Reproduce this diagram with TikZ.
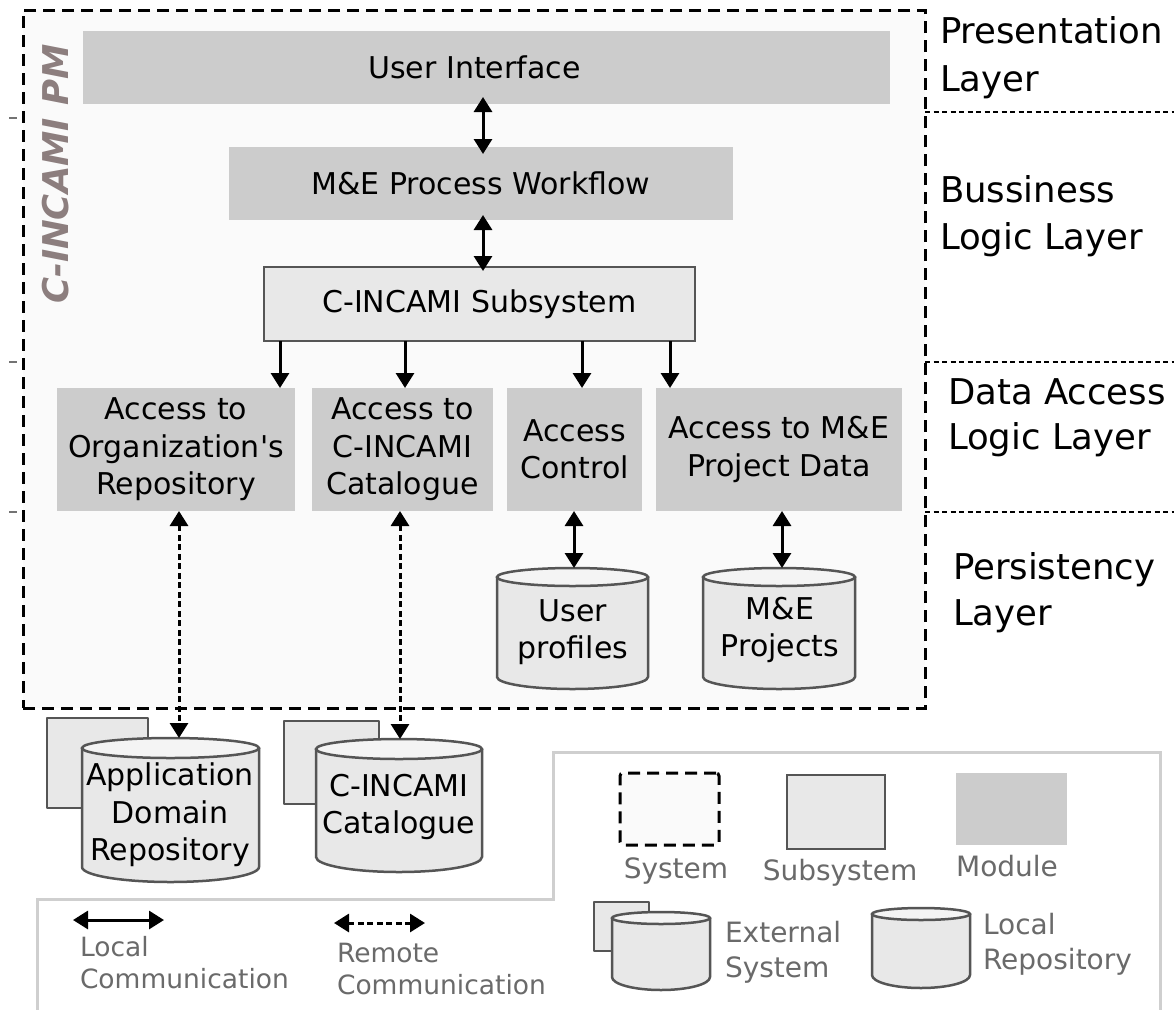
\documentclass[tikz,border=0pt]{standalone}
\usepackage{fontspec}
\setmainfont{DejaVu Sans}
\usetikzlibrary{arrows.meta}
\definecolor{modfill}{HTML}{CCCCCC}
\definecolor{subfill}{HTML}{E8E8E8}
\definecolor{subdraw}{HTML}{555555}
\definecolor{sysfill}{HTML}{FAFAFA}
\definecolor{legline}{HTML}{CFCFCF}
\definecolor{legtext}{HTML}{6A6A6A}
\definecolor{pmtext}{HTML}{8C7E7E}
\definecolor{cyltop}{HTML}{F4F4F4}
\newcommand\mycyl[7]{%
  \node[minimum width={(#3-#2)*1pt}, minimum height={(#6+#7-#4)*1pt}] (#1) at ({(#2+#3)/2},{(#4+#6+#7)/2}) {};
  \path[cylbody] ({#2},{#4+#5}) -- ({#2},{#6}) arc[start angle=180, end angle=360, x radius={(#3-#2)/2*1pt}, y radius={#7*1pt}] -- ({#3},{#4+#5}) -- cycle;
  \path[cyltopst] ({(#2+#3)/2},{#4+#5}) ellipse[x radius={(#3-#2)/2*1pt}, y radius={#5*1pt}];
}
\begin{document}
\begin{tikzpicture}[x=1pt,y=-1pt,
  >={Triangle[width=18pt,length=15pt]},
  every node/.style={inner sep=0pt,outer sep=0pt},
  maintxt/.style={font=\fontsize{30}{37.5}\selectfont,align=center},
  layertxt/.style={font=\fontsize{35.5}{45}\selectfont,align=left,anchor=north west},
  legtxt/.style={font=\fontsize{28}{35}\selectfont,text=legtext},
  legtxtsm/.style={font=\fontsize{26.5}{32}\selectfont,text=legtext,align=left,anchor=north west},
  modulebox/.style={maintxt,fill=modfill,rectangle},
  subbox/.style={maintxt,fill=subfill,draw=subdraw,line width=2.5pt},
  sysbox/.style={fill=sysfill,draw=black,line width=3pt,dash pattern=on 12pt off 7pt},
  cylbody/.style={fill=subfill,draw=subdraw,line width=2.5pt,line join=round},
  cyltopst/.style={fill=cyltop,draw=subdraw,line width=2.5pt},
  conn/.style={line width=3pt,->},
  bidir/.style={line width=3pt,<->},
  remote/.style={bidir,dash pattern=on 6pt off 3.5pt},
  layerline/.style={draw=black,line width=2pt,dash pattern=on 5pt off 3.5pt},
  tickmark/.style={draw=black!55,line width=1.5pt},
  legline/.style={draw=legline,line width=3pt}
]
\useasboundingbox (0,0) rectangle (1174,1009);
\fill[white] (0,0) rectangle (1174,1009);

% system box
\node[sysbox,minimum width=902pt,minimum height=698pt] (sys) at (474,359) {};
\node[font=\fontsize{35.5}{40}\selectfont\bfseries\itshape,text=pmtext,rotate=90] (pm) at (56,174) {C-INCAMI PM};

% layer separators
\draw[layerline] (925,112) -- (1174,112);
\draw[layerline] (925,362) -- (1174,362);
\draw[layerline] (925,512) -- (1174,512);
\draw[tickmark] (9,118) -- (17,118);
\draw[tickmark] (9,362) -- (17,362);
\draw[tickmark] (9,512) -- (17,512);

% layer labels
\node[layertxt] (lp) at (940,17) {Presentation\\[3pt]Layer};
\node[layertxt] (lb) at (940,176) {Bussiness\\[2pt]Logic Layer};
\node[layertxt] (ld) at (948,379) {Data Access\\Logic Layer};
\node[layertxt] (lpe) at (953,553) {Persistency\\[1pt]Layer};

% modules
\node[modulebox,minimum width=807pt,minimum height=73pt] (ui) at (486.5,67.5) {User Interface\rule{24pt}{0pt}};
\node[modulebox,minimum width=504pt,minimum height=73pt] (me) at (481,183.5) {M\&E Process Workflow};
\node[subbox,minimum width=431pt,minimum height=74pt] (sub) at (479.5,304) {C-INCAMI Subsystem};
\node[modulebox,minimum width=238pt,minimum height=123pt] (org) at (176,449.5) {\rule{0pt}{6pt}Access to\\Organization\textquotesingle s\\Repository};
\node[modulebox,minimum width=181pt,minimum height=123pt] (cat) at (402.5,449.5) {Access to\\C-INCAMI\\Catalogue};
\node[modulebox,minimum width=135pt,minimum height=123pt] (acc) at (574.5,449.5) {Access\\Control};
\node[modulebox,minimum width=246pt,minimum height=123pt] (prj) at (779,449.5) {Access to M\&E\\Project Data};

% repositories
\draw[cylbody] (47,718) rectangle (148,808);
\mycyl{app}{82}{259}{738}{10}{867}{15}
\node[maintxt] (apptxt) at (170,815) {Application\\Domain\\Repository};
\draw[cylbody] (284,721) rectangle (379,804);
\mycyl{catc}{316}{482}{739}{10}{857}{15}
\node[maintxt] (cattxt) at (399,807) {C-INCAMI\\Catalogue};
\mycyl{usr}{497}{648}{568}{9}{677}{12}
\node[maintxt] (usrtxt) at (573,632) {User\\profiles};
\mycyl{mep}{703}{855}{568}{9}{677}{12}
\node[maintxt] (meptxt) at (780,630) {M\&E\\Projects};

% columns
\coordinate (k0) at (483,0);
\coordinate (k1) at (280,0);
\coordinate (k2) at (405,0);
\coordinate (k3) at (582,0);
\coordinate (k4) at (670,0);
\coordinate (r1) at (179,0);
\coordinate (r2) at (400,0);
\coordinate (r3) at (574,0);
\coordinate (r4) at (782,0);

% connectors
\draw[bidir,shorten <=-7pt,shorten >=-7pt] (ui.south -| k0) -- (me.north -| k0);
\draw[bidir,shorten <=-5pt,shorten >=-4pt] (me.south -| k0) -- (sub.north -| k0);
\draw[conn] (sub.south -| k1) -- (org.north -| k1);
\draw[conn] (sub.south -| k2) -- (cat.north -| k2);
\draw[conn] (sub.south -| k3) -- (acc.north -| k3);
\draw[conn] (sub.south -| k4) -- (prj.north -| k4);
\draw[remote] (org.south -| r1) -- (app.north -| r1);
\draw[remote] (cat.south -| r2) -- (catc.north -| r2);
\draw[bidir] (acc.south -| r3) -- (usr.north -| r3);
\draw[bidir] (prj.south -| r4) -- (mep.north -| r4);

% legend
\draw[legline] (37,1015) -- (37,899) -- (553,899) -- (553,752) -- (1160,752) -- (1160,1015);
\coordinate (la1) at (73,920);
\coordinate (la2) at (164,920);
\draw[bidir] (la1) -- (la2);
\coordinate (ra1) at (334,923);
\coordinate (ra2) at (425,923);
\draw[remote] (ra1) -- (ra2);
\node[legtxtsm] (tlc) at (80,936) {Local\\Communication};
\node[legtxtsm] (trc) at (337,943) {Remote\\Communication};

\node[sysbox,rounded corners=3pt,minimum width=99pt,minimum height=72pt] (lsys) at (669.5,809) {};
\node[subbox,minimum width=98pt,minimum height=74pt] (lsub) at (836,812) {};
\node[modulebox,minimum width=111pt,minimum height=72pt] (lmod) at (1011.5,809) {};
\node[legtxt,anchor=base] (tsys) at (676,878) {System};
\node[legtxt,anchor=base] (tsub) at (840,880) {Subsystem};
\node[legtxt,anchor=base] (tmod) at (1007,876) {Module};

\draw[cylbody] (594,902) rectangle (649,951);
\mycyl{lext}{612}{710}{912}{6}{977}{13}
\node[legtxt,align=left,anchor=north west] (text) at (725,921) {External\\System};
\mycyl{lrep}{872}{970}{908}{6}{975}{13}
\node[legtxt,align=left,anchor=north west] (trep) at (983,913) {Local\\Repository};
\end{tikzpicture}
\end{document}
